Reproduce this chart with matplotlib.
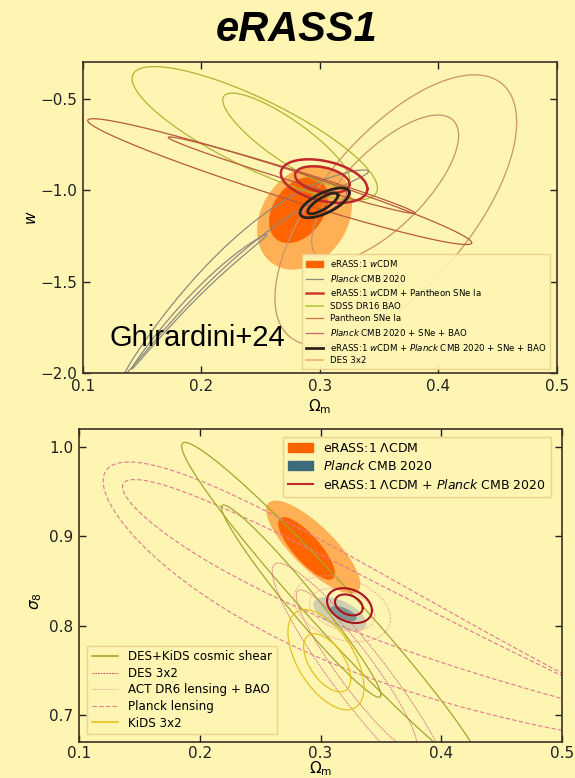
import numpy as np
import matplotlib
matplotlib.use("Agg")
import matplotlib.pyplot as plt
from matplotlib.patches import Patch
from matplotlib.lines import Line2D

BG = "#FEF5B3"

# ---------------- contour parameters (outer, inner) ----------------
# each contour: centre (cx, cy), half-extent (sx, sy), correlation rho,
# optional bend (quadratic curvature) and taper (width asymmetry)

# top panel: Omega_m vs w
erass_w_cx = [0.287, 0.282]
erass_w_cy = [-1.15, -1.11]
erass_w_sx = [0.040, 0.025]
erass_w_sy = [0.285, 0.180]
erass_w_rho = [0.25, 0.35]

planck_w_cx = [0.238, 0.198]
planck_w_cy = [-1.262, -1.553]
planck_w_sx = [0.103, 0.057]
planck_w_sy = [0.557, 0.3675]
planck_w_rho = [0.995, 0.9973]
planck_w_bend = [-18.0, -18.0]

erass_pan_cx = [0.3035, 0.302]
erass_pan_cy = [-0.951, -0.943]
erass_pan_sx = [0.0365, 0.023]
erass_pan_sy = [0.119, 0.073]
erass_pan_rho = [-0.36, -0.34]

sdss_cx = [0.245, 0.2715]
sdss_cy = [-0.69, -0.725]
sdss_sx = [0.1035, 0.0535]
sdss_sy = [0.365, 0.255]
sdss_rho = [-0.82, -0.85]

pantheon_cx = [0.266, 0.276]
pantheon_cy = [-0.954, -0.9185]
pantheon_sx = [0.162, 0.104]
pantheon_sy = [0.344, 0.209]
pantheon_rho = [-0.971, -0.988]

pl_sne_bao_cx = [0.3035, 0.3025]
pl_sne_bao_cy = [-1.068, -1.072]
pl_sne_bao_sx = [0.019, 0.012]
pl_sne_bao_sy = [0.078, 0.054]
pl_sne_bao_rho = [0.68, 0.72]

erass_all_cx = [0.304, 0.3025]
erass_all_cy = [-1.07, -1.073]
erass_all_sx = [0.0208, 0.0128]
erass_all_sy = [0.0815, 0.057]
erass_all_rho = [0.67, 0.78]

des_w_cx = [0.364, 0.355]
des_w_cy = [-1.11, -0.99]
des_w_sx = [0.102, 0.062]
des_w_sy = [0.74, 0.40]
des_w_rho = [0.65, 0.72]

# bottom panel: Omega_m vs sigma_8
erass_l_cx = [0.294, 0.2885]
erass_l_cy = [0.888, 0.8865]
erass_l_sx = [0.039, 0.0235]
erass_l_sy = [0.052, 0.035]
erass_l_rho = [-0.80, -0.80]

planck_s8_cx = [0.316, 0.319]
planck_s8_cy = [0.813, 0.8135]
planck_s8_sx = [0.022, 0.011]
planck_s8_sy = [0.019, 0.0085]
planck_s8_rho = [-0.55, -0.6]

erass_planck_cx = [0.324, 0.3235]
erass_planck_cy = [0.8225, 0.8233]
erass_planck_sx = [0.0186, 0.0115]
erass_planck_sy = [0.0195, 0.0117]
erass_planck_rho = [-0.28, -0.3]

deskids_cx = [0.31, 0.284]
deskids_cy = [0.82, 0.8275]
deskids_sx = [0.125, 0.066]
deskids_sy = [0.185, 0.1075]
deskids_rho = [-0.978, -0.974]

des32_cx = [0.335, 0.33]
des32_cy = [0.74, 0.75]
des32_sx = [0.075, 0.05]
des32_sy = [0.13, 0.09]
des32_rho = [-0.93, -0.93]

act_cx = [0.318, 0.318]
act_cy = [0.819, 0.818]
act_sx = [0.040, 0.027]
act_sy = [0.037, 0.024]
act_rho = [-0.3, -0.3]

plens_cx = [0.39, 0.378]
plens_cy = [0.774, 0.7975]
plens_sx = [0.27, 0.242]
plens_sy = [0.1666, 0.143]
plens_rho = [-0.945, -0.98]
plens_bend = [0.417, 0.30]
plens_taper = [0.874, 0.95]

kids_cx = [0.3045, 0.3055]
kids_cy = [0.762, 0.7585]
kids_sx = [0.0315, 0.0195]
kids_sy = [0.056, 0.0325]
kids_rho = [-0.55, -0.55]

top_legend_labels = [r"eRASS:1 $w$CDM", r"$Planck$ CMB 2020",
                     r"eRASS:1 $w$CDM + Pantheon SNe Ia", "SDSS DR16 BAO",
                     "Pantheon SNe Ia", r"$Planck$ CMB 2020 + SNe + BAO",
                     r"eRASS:1 $w$CDM + $Planck$ CMB 2020 + SNe + BAO", "DES 3x2"]
bot_legend1_labels = [r"eRASS:1 $\Lambda$CDM", r"$Planck$ CMB 2020",
                      r"eRASS:1 $\Lambda$CDM + $Planck$ CMB 2020"]
bot_legend2_labels = ["DES+KiDS cosmic shear", "DES 3x2", "ACT DR6 lensing + BAO",
                      "Planck lensing", "KiDS 3x2"]
top_yticks = [-2.0, -1.5, -1.0, -0.5]
bot_yticks = [0.7, 0.8, 0.9, 1.0]
xticks = [0.1, 0.2, 0.3, 0.4, 0.5]


def contour_path(cx, cy, sx, sy, rho, bend=0.0, taper=0.0, n=600):
    t = np.linspace(0, 2 * np.pi, n)
    u, v = np.cos(t), np.sin(t)
    x = cx + sx * u
    y = cy + sy * (rho * u + np.sqrt(1 - rho ** 2) * v * (1 - taper * u)) + bend * (sx * u) ** 2
    return x, y


def draw(ax, cx, cy, sx, sy, rho, bend=None, taper=None, fill=None, **kw):
    for i in range(len(cx)):
        b = bend[i] if bend is not None else 0.0
        tp = taper[i] if taper is not None else 0.0
        x, y = contour_path(cx[i], cy[i], sx[i], sy[i], rho[i], b, tp)
        if fill is not None:
            ax.fill(x, y, color=fill[i], lw=0, zorder=kw.get("zorder", 1))
        else:
            ax.plot(x, y, **kw)


fig = plt.figure(figsize=(5.75, 7.78), dpi=100, facecolor=BG)
fig.text(0.516, 0.961, "eRASS1", ha="center", va="center", fontsize=30,
         fontweight="bold", fontstyle="italic", family="Liberation Sans")

ax1 = fig.add_axes([0.1443, 0.5206, 0.8243, 0.3997])
ax2 = fig.add_axes([0.1374, 0.0463, 0.8400, 0.4023])

C_ER_DARK, C_ER_LIGHT = "#FF6400", "#FFB055"
C_PLANCK = "#8E8A7E"
C_RED = "#C0282A"
C_SDSS = "#B3B42E"
C_PAN = "#B85A3C"
C_PSB = "#C8607A"
C_BLACK = "#2E2218"
C_DES = "#C99468"

# ---- top panel ----
draw(ax1, erass_w_cx, erass_w_cy, erass_w_sx, erass_w_sy, erass_w_rho,
     fill=[C_ER_LIGHT, C_ER_DARK], zorder=1)
draw(ax1, des_w_cx, des_w_cy, des_w_sx, des_w_sy, des_w_rho, color=C_DES, lw=0.9, zorder=2)
draw(ax1, planck_w_cx, planck_w_cy, planck_w_sx, planck_w_sy, planck_w_rho,
     bend=planck_w_bend, color=C_PLANCK, lw=0.9, zorder=2)
draw(ax1, sdss_cx, sdss_cy, sdss_sx, sdss_sy, sdss_rho, color=C_SDSS, lw=0.9, zorder=2)
draw(ax1, pantheon_cx, pantheon_cy, pantheon_sx, pantheon_sy, pantheon_rho,
     color=C_PAN, lw=0.9, zorder=2)
draw(ax1, pl_sne_bao_cx, pl_sne_bao_cy, pl_sne_bao_sx, pl_sne_bao_sy, pl_sne_bao_rho,
     color=C_PSB, lw=0.8, zorder=2)
draw(ax1, erass_pan_cx, erass_pan_cy, erass_pan_sx, erass_pan_sy, erass_pan_rho,
     color=C_RED, lw=1.8, zorder=3)
draw(ax1, erass_all_cx, erass_all_cy, erass_all_sx, erass_all_sy, erass_all_rho,
     color=C_BLACK, lw=2.0, zorder=4)

ax1.set_xlim(0.1, 0.5)
ax1.set_ylim(-2.0, -0.3)
ax1.set_yticks(top_yticks)
ax1.set_xlabel(r"$\Omega_{\rm m}$", fontsize=11, labelpad=3)
ax1.set_ylabel(r"$w$", fontsize=11)
ax1.yaxis.set_label_coords(-0.092, 0.5)
ax1.text(0.1228, -1.853, "Ghirardini+24", fontsize=21, family="Liberation Sans", zorder=6)

h_top = [Patch(color=C_ER_DARK),
         Line2D([], [], color=C_PLANCK, lw=0.9),
         Line2D([], [], color="#D03A2A", lw=1.8),
         Line2D([], [], color="#B8CC44", lw=1.2),
         Line2D([], [], color="#D0703E", lw=0.9),
         Line2D([], [], color=C_PSB, lw=0.9),
         Line2D([], [], color=C_BLACK, lw=2.0),
         Line2D([], [], color="#F0B070", lw=1.2)]
leg = ax1.legend(h_top, top_legend_labels, loc="lower right", fontsize=6.2,
                 labelspacing=0.42, handlelength=2.0, borderpad=0.4,
                 bbox_to_anchor=(0.995, 0.0), facecolor=BG, edgecolor="#E9D08A",
                 framealpha=0.9, fancybox=False)
leg.set_zorder(5)

# ---- bottom panel ----
draw(ax2, plens_cx, plens_cy, plens_sx, plens_sy, plens_rho, bend=plens_bend,
     taper=plens_taper, color="#E27A8A", lw=0.8, ls=(0, (4, 2)), zorder=2)
draw(ax2, erass_l_cx, erass_l_cy, erass_l_sx, erass_l_sy, erass_l_rho,
     fill=[C_ER_LIGHT, C_ER_DARK], zorder=1)
draw(ax2, planck_s8_cx, planck_s8_cy, planck_s8_sx, planck_s8_sy, planck_s8_rho,
     fill=["#D2CFB0", "#7E9790"], zorder=1.5)
draw(ax2, deskids_cx, deskids_cy, deskids_sx, deskids_sy, deskids_rho,
     color="#A4A62C", lw=0.9, zorder=2)
draw(ax2, des32_cx, des32_cy, des32_sx, des32_sy, des32_rho,
     color="#DA6A78", lw=0.7, ls=(0, (1.5, 1)), zorder=2)
draw(ax2, act_cx, act_cy, act_sx, act_sy, act_rho,
     color="#EE9A88", lw=0.8, ls=(0, (1, 1.3)), zorder=2)
draw(ax2, kids_cx, kids_cy, kids_sx, kids_sy, kids_rho, color="#E6C21E", lw=0.9, zorder=2)
draw(ax2, erass_planck_cx, erass_planck_cy, erass_planck_sx, erass_planck_sy,
     erass_planck_rho, color="#A8141C", lw=1.5, zorder=3)

ax2.set_xlim(0.1, 0.5)
ax2.set_ylim(0.67, 1.02)
ax2.set_yticks(bot_yticks)
ax2.set_xlabel(r"$\Omega_{\rm m}$", fontsize=11, labelpad=-1)
ax2.set_ylabel(r"$\sigma_8$", fontsize=11)
ax2.yaxis.set_label_coords(-0.072, 0.45)

h_b1 = [Patch(color=C_ER_DARK), Patch(color="#3D6B7C"), Line2D([], [], color=C_RED, lw=1.5)]
leg1 = ax2.legend(h_b1, bot_legend1_labels, loc="upper right", fontsize=9,
                  labelspacing=0.35, handlelength=2.0, borderpad=0.4,
                  bbox_to_anchor=(0.99, 0.995), facecolor=BG, edgecolor="#E9D08A",
                  framealpha=0.9, fancybox=False)
leg1.set_zorder(5)
ax2.add_artist(leg1)
h_b2 = [Line2D([], [], color="#A4A62C", lw=1.2),
        Line2D([], [], color="#D65868", lw=0.8, ls=(0, (1.5, 1))),
        Line2D([], [], color="#EE9A88", lw=0.8, ls=(0, (1, 1.3))),
        Line2D([], [], color="#E27A8A", lw=0.8, ls=(0, (4, 2))),
        Line2D([], [], color="#E6C21E", lw=1.2)]
leg2 = ax2.legend(h_b2, bot_legend2_labels, loc="lower left", fontsize=8.6,
                  labelspacing=0.3, handlelength=2.2, borderpad=0.4,
                  bbox_to_anchor=(0.005, 0.005), facecolor=BG, edgecolor="#E9D08A",
                  framealpha=0.9, fancybox=False)
leg2.set_zorder(5)

for ax in (ax1, ax2):
    ax.set_facecolor(BG)
    ax.set_xticks(xticks)
    ax.tick_params(direction="in", top=True, right=True, labelsize=11, length=5,
                   width=1, colors="#222222", pad=4)
    for s in ax.spines.values():
        s.set_color("#3a3128")
        s.set_linewidth(1.2)
ax2.tick_params(axis="x", pad=3)

fig.savefig("out.png", dpi=100, facecolor=BG)
